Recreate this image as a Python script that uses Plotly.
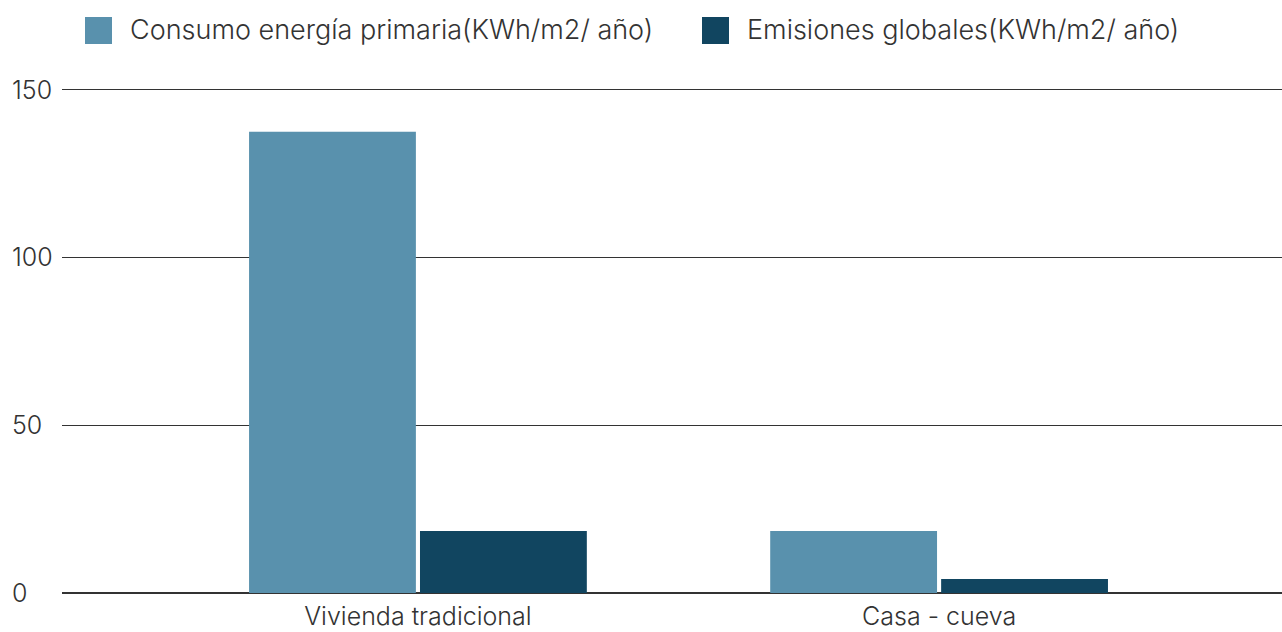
import plotly.graph_objects as go

categories = ["Vivienda tradicional", "Casa - cueva"]
series_names = ["Consumo energía primaria(KWh/m2/ año)", "Emisiones globales(KWh/m2/ año)"]
consumo = [137.5, 18.5]
emisiones = [18.5, 4.2]
y_ticks = [0, 50, 100, 150]
colors = ["#5991AD", "#114560"]

FONT = "Inter"
TXT = "#333333"

fig = go.Figure()
fig.add_trace(go.Bar(x=categories, y=consumo, name=series_names[0],
                     marker=dict(color=colors[0], line=dict(width=0)), showlegend=False))
fig.add_trace(go.Bar(x=categories, y=emisiones, name=series_names[1],
                     marker=dict(color=colors[1], line=dict(width=0)), showlegend=False))

# plot area: x 62..1282, y 83..593 (range 0..152)
W, H = 1220.0, 510.0
def px(x):
    return (x - 62) / W
def py(y):
    return (593 - y) / H

# legend drawn as shapes + annotations
for i, (sx, tx) in enumerate([(85, 130), (702, 747)]):
    fig.add_shape(type="rect", xref="paper", yref="paper",
                  x0=px(sx), x1=px(sx + 27), y0=py(44), y1=py(17),
                  fillcolor=colors[i], line=dict(width=0))
    fig.add_annotation(xref="paper", yref="paper", x=px(tx - 2), y=py(30),
                       xanchor="left", yanchor="middle", showarrow=False,
                       text=series_names[i],
                       font=dict(family=FONT, size=27, color=TXT, weight=300))

# left-aligned y tick labels
for v in y_ticks:
    fig.add_annotation(xref="paper", yref="y", x=px(10), y=v,
                       xanchor="left", yanchor="middle", showarrow=False,
                       text=str(v),
                       font=dict(family=FONT, size=25, color=TXT, weight=300))

fig.update_layout(
    width=1282, height=632,
    margin=dict(l=62, r=0, t=83, b=39, autoexpand=False),
    paper_bgcolor="white", plot_bgcolor="white",
    barmode="group", bargap=0.344, bargroupgap=0.024,
    font=dict(family=FONT, size=26, color=TXT, weight=300),
    xaxis=dict(type="category", range=[-0.683, 1.658], showgrid=False,
               showline=False, ticks="", ticklabelstandoff=6,
               automargin=False, tickfont=dict(size=25)),
    yaxis=dict(range=[0, 152], tickvals=y_ticks, showgrid=True,
               showticklabels=False, automargin=False,
               gridcolor="#333333", gridwidth=1, zeroline=True,
               zerolinecolor="#333333", zerolinewidth=1.5, ticks=""),
    showlegend=False,
)

fig.write_html("out.html")
